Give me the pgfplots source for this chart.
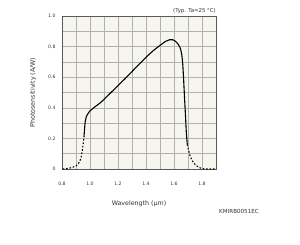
\documentclass[border=0pt]{standalone}
\usepackage{pgfplots}
\pgfplotsset{compat=1.18}
\usepackage{fontspec}
\setmainfont{DejaVu Sans}
\definecolor{bgc}{HTML}{F7F6EE}
\definecolor{txt}{HTML}{333333}
\begin{document}
\begin{tikzpicture}[x=1pt,y=1pt]
\useasboundingbox (0,0) rectangle (300,244);
\begin{axis}[at={(62pt,75pt)}, anchor=south west, scale only axis,
  width=154pt, height=153pt,
  xmin=0.8, xmax=1.9, ymin=0, ymax=1,
  xtick={0.8,1.0,1.2,1.4,1.6,1.8},
  xticklabels={0.8,1.0,1.2,1.4,1.6,1.8},
  ytick={0,0.2,0.4,0.6,0.8,1.0},
  yticklabels={0,0.2,0.4,0.6,0.8,1.0},
  minor xtick={0.9,1.1,1.3,1.5,1.7,1.9},
  minor ytick={0.1,0.3,0.5,0.7,0.9},
  grid=both,
  major grid style={draw=gray!60, line width=0.45pt},
  minor grid style={draw=gray!60, line width=0.45pt},
  axis background/.style={fill=bgc},
  axis line style={draw=black!65, line width=0.9pt},
  major tick length=0pt, minor tick length=0pt,
  ticklabel style={font=\fontsize{4.6}{5}\selectfont, text=txt},
  xticklabel style={yshift=-10pt},
  yticklabel style={xshift=-3pt},
  xlabel={Wavelength (μm)},
  ylabel={Photosensitivity (A/W)},
  label style={font=\fontsize{6.3}{7}\selectfont, text=txt},
  xlabel style={at={(axis description cs:0.5,-0.227)}, anchor=center},
  ylabel style={at={(axis description cs:-0.188,0.5)}, anchor=center},
  clip=false,
]
\addplot[black, line width=1.1pt, smooth, tension=0.35] coordinates {
(0.957,0.21) (0.962,0.27) (0.966,0.31) (0.975,0.345) (0.99,0.368) (1.0,0.38)
(1.02,0.395) (1.04,0.41) (1.07,0.43) (1.1,0.455) (1.15,0.5) (1.2,0.545)
(1.25,0.59) (1.3,0.637) (1.35,0.684) (1.4,0.73) (1.45,0.772) (1.5,0.808)
(1.54,0.834) (1.57,0.845) (1.59,0.845) (1.61,0.835) (1.63,0.815) (1.645,0.79)
(1.655,0.75) (1.662,0.69) (1.668,0.6) (1.675,0.47) (1.682,0.35) (1.688,0.24)
(1.695,0.16)};
\addplot[black, line width=1.1pt, smooth, tension=0.35, dash pattern=on 1.6pt off 1.8pt] coordinates {
(0.805,0) (0.84,0.003) (0.87,0.01) (0.9,0.02) (0.92,0.04) (0.935,0.07)
(0.945,0.12) (0.952,0.17) (0.957,0.21)};
\addplot[black, line width=1.1pt, smooth, tension=0.35, dash pattern=on 1.6pt off 1.8pt] coordinates {
(1.695,0.16) (1.705,0.12) (1.715,0.085) (1.73,0.055) (1.75,0.03) (1.775,0.012)
(1.8,0.003) (1.82,0) (1.89,0)};
\node[anchor=south east, inner sep=0pt, font=\fontsize{5.4}{6}\selectfont, text=txt]
  at (rel axis cs:1,1) [yshift=2pt] {(Typ. Ta=25 °C)};
\end{axis}
\node[font=\fontsize{5.6}{6}\selectfont, text=txt] at (239,33) {KMIRB0051EC};
\end{tikzpicture}
\end{document}
